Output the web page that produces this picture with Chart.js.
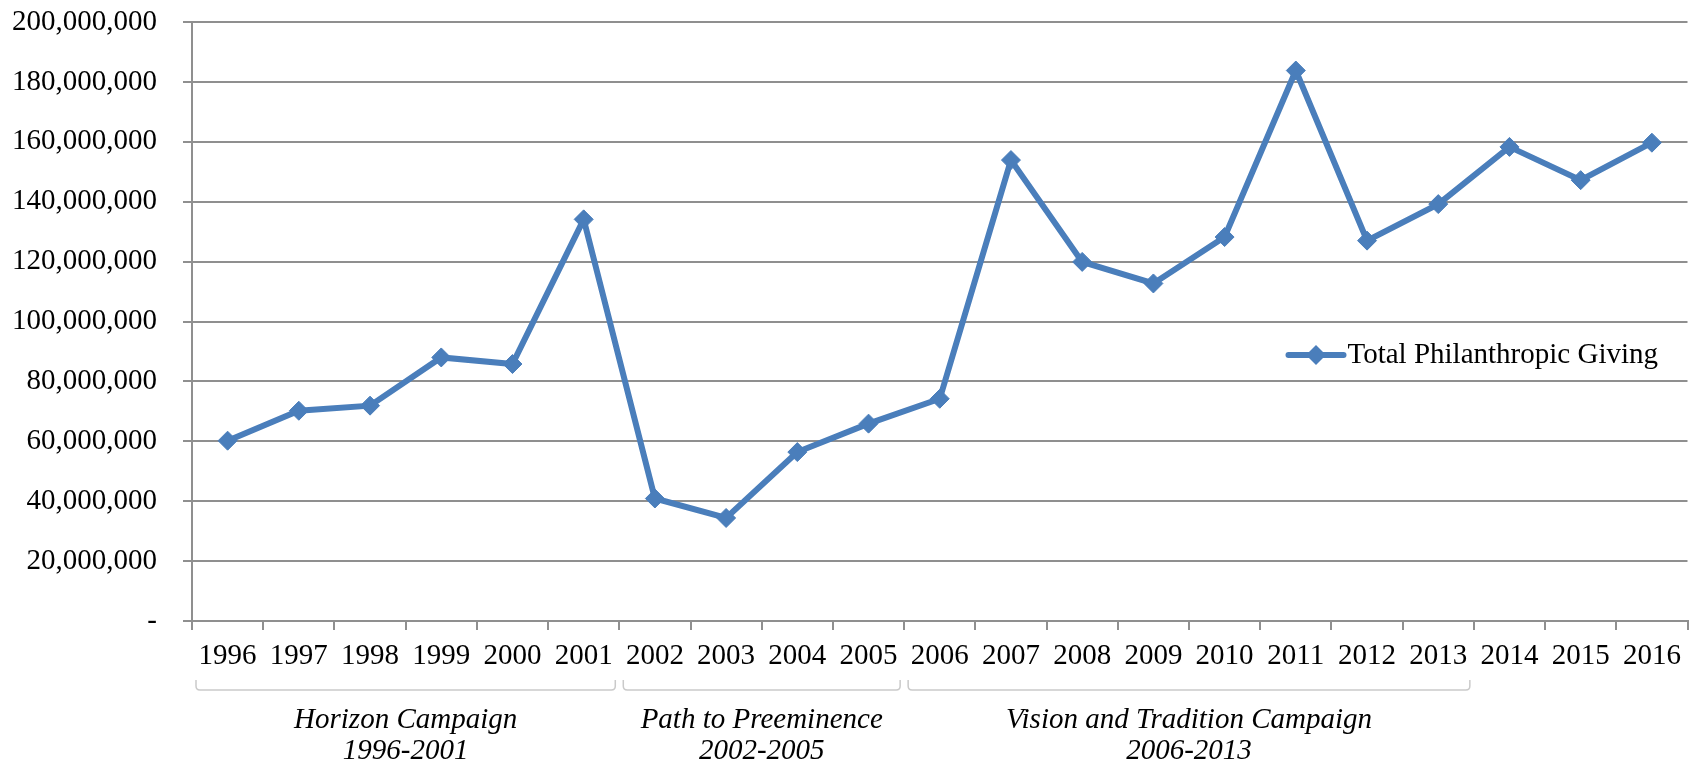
<!DOCTYPE html>
<html>
<head>
<meta charset="utf-8">
<script src="https://cdn.jsdelivr.net/npm/chart.js@4.4.1/dist/chart.umd.min.js"></script>
<style>
  body { margin: 0; background: #fff; }
  #wrap { width: 1698px; height: 768px; }
</style>
</head>
<body>
<div id="wrap"><canvas id="giving"></canvas></div>
<script>
// data ----------------------------------------------------------------------
const years = ['1996', '1997', '1998', '1999', '2000', '2001', '2002', '2003', '2004', '2005',
  '2006', '2007', '2008', '2009', '2010', '2011', '2012', '2013', '2014', '2015', '2016'];
const giving = [60200000, 70200000, 71900000, 88000000, 85800000, 134100000, 40900000, 34400000,
  56400000, 65900000, 74200000, 153900000, 119900000, 112700000, 128200000, 183800000,
  127000000, 139200000, 158300000, 147200000, 159700000];
const seriesName = 'Total Philanthropic Giving';
const yMax = 200000000;
const yStep = 20000000;

const campaignNames = ['Horizon Campaign', 'Path to Preeminence', 'Vision and Tradition Campaign'];
const campaignSpans = ['1996-2001', '2002-2005', '2006-2013'];
const campaignFirst = ['1996', '2002', '2006'];
const campaignLast = ['2001', '2005', '2013'];

const serif = '"Liberation Serif", "Times New Roman", serif';
const blue = '#4a7ebb';
const gray = '#8f8f8f';

// brackets + campaign names under the axis, and the legend inside the plot
const campaignPlugin = {
  id: 'campaigns',
  afterDraw(chart) {
    const ctx = chart.ctx;
    const x = chart.scales.x;
    const area = chart.chartArea;
    const half = (x.getPixelForValue(1) - x.getPixelForValue(0)) / 2;
    ctx.save();
    campaignNames.forEach((name, i) => {
      const left = x.getPixelForValue(years.indexOf(campaignFirst[i])) - half + 4;
      const right = x.getPixelForValue(years.indexOf(campaignLast[i])) + half - 4;
      const top = area.bottom + 59;
      const bottom = area.bottom + 69;
      ctx.strokeStyle = '#cacaca';
      ctx.lineWidth = 1.5;
      ctx.beginPath();
      ctx.moveTo(left, top);
      ctx.lineTo(left, bottom - 4);
      ctx.quadraticCurveTo(left, bottom, left + 4, bottom);
      ctx.lineTo(right - 4, bottom);
      ctx.quadraticCurveTo(right, bottom, right, bottom - 4);
      ctx.lineTo(right, top);
      ctx.stroke();

      const cx = (left + right) / 2;
      ctx.fillStyle = '#000';
      ctx.font = 'italic 29px ' + serif;
      ctx.textAlign = 'center';
      ctx.textBaseline = 'alphabetic';
      ctx.fillText(name, cx, area.bottom + 107);
      ctx.fillText(campaignSpans[i], cx, area.bottom + 138);
    });

    // legend
    const ds = chart.data.datasets[0];
    const lx = area.right - 399;
    const ly = area.top + 333;
    ctx.strokeStyle = ds.borderColor;
    ctx.lineWidth = 6;
    ctx.lineCap = 'round';
    ctx.beginPath();
    ctx.moveTo(lx, ly);
    ctx.lineTo(lx + 55, ly);
    ctx.stroke();
    const mx = lx + 27.5;
    ctx.fillStyle = ds.backgroundColor;
    ctx.beginPath();
    ctx.moveTo(mx - 10, ly);
    ctx.lineTo(mx, ly - 10);
    ctx.lineTo(mx + 10, ly);
    ctx.lineTo(mx, ly + 10);
    ctx.closePath();
    ctx.fill();
    ctx.fillStyle = '#000';
    ctx.font = '29px ' + serif;
    ctx.textAlign = 'left';
    ctx.textBaseline = 'middle';
    ctx.fillText(ds.label, lx + 59, ly);
    ctx.restore();
  }
};

const ctx = document.getElementById('giving');
new Chart(ctx, {
  type: 'line',
  data: {
    labels: years,
    datasets: [
      {
        label: seriesName,
        data: giving,
        borderColor: blue,
        backgroundColor: blue,
        borderWidth: 6,
        tension: 0,
        pointStyle: 'rectRot',
        pointRadius: 9.5,
        pointBorderWidth: 1,
        pointBackgroundColor: blue,
        pointBorderColor: blue
      }
    ]
  },
  options: {
    responsive: true,
    maintainAspectRatio: false,
    animation: false,
    layout: { padding: { top: 22, right: 1, left: 0, bottom: 0 } },
    plugins: {
      legend: { display: false },
      tooltip: { enabled: false }
    },
    scales: {
      x: {
        type: 'category',
        offset: true,
        afterFit(scale) {
          scale.height = 147;
          scale.paddingLeft = 0;
          scale.paddingRight = 0;
        },
        grid: {
          offset: true,
          drawOnChartArea: false,
          drawTicks: true,
          tickLength: 9,
          color: gray,
          lineWidth: 2
        },
        border: { display: true, color: gray, width: 2 },
        ticks: {
          color: '#000',
          font: { family: serif, size: 29 },
          padding: 9,
          autoSkip: false,
          maxRotation: 0
        }
      },
      y: {
        min: 0,
        max: yMax,
        afterFit(scale) {
          scale.width = 192;
          scale.paddingTop = 0;
          scale.paddingBottom = 0;
        },
        grid: {
          drawTicks: true,
          tickLength: 9,
          color: gray,
          lineWidth: 2
        },
        border: { display: true, color: gray, width: 2 },
        ticks: {
          stepSize: yStep,
          color: '#000',
          font: { family: serif, size: 29 },
          padding: 26,
          callback: (v) => v === 0 ? '-' : v.toLocaleString('en-US')
        }
      }
    }
  },
  plugins: [campaignPlugin]
});
</script>
</body>
</html>
